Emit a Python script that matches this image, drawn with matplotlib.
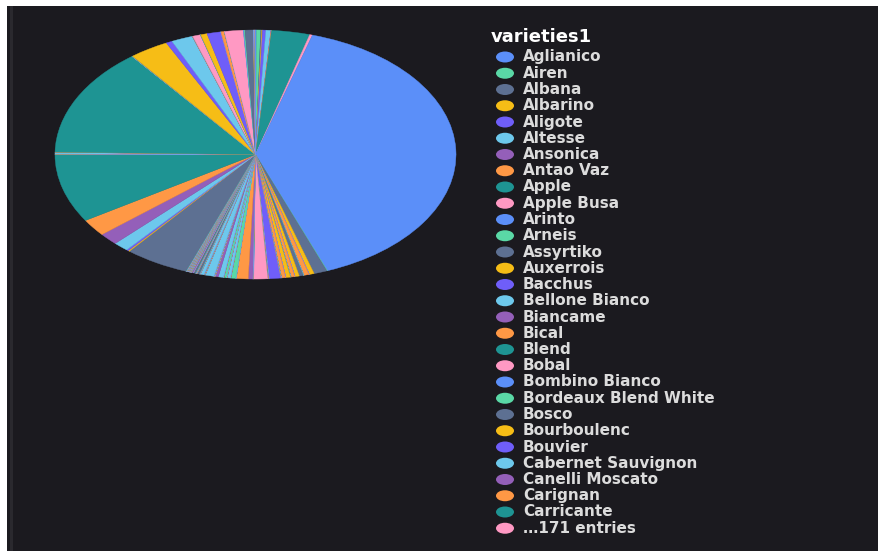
import matplotlib
matplotlib.use("Agg")
import matplotlib.pyplot as plt
from matplotlib.patches import Ellipse, Rectangle

# reviews per white variety, alphabetical order (201 varieties, clockwise from 12 o'clock)
variety_counts = [
    6, 24, 6, 4, 20, 28, 2, 2, 222, 16,
    2850, 3, 77, 28, 1, 1, 1, 29, 1, 1,
    1, 1, 24, 24, 1, 1, 1, 20, 1, 1,
    1, 1, 1, 25, 1, 1, 1, 22, 1, 1,
    1, 1, 1, 1, 66, 2, 2, 2, 2, 80,
    1, 1, 1, 1, 1, 1, 26, 68, 1, 1,
    1, 28, 1, 1, 1, 18, 1, 1, 1, 1,
    1, 14, 1, 1, 1, 30, 18, 1, 1, 1,
    1, 1, 1, 1, 1, 50, 1, 1, 1, 1,
    1, 1, 1, 1, 1, 20, 1, 1, 1, 1,
    1, 1, 14, 1, 1, 1, 1, 1, 1, 1,
    1, 1, 12, 1, 1, 1, 8, 1, 1, 1,
    1, 1, 1, 1, 1, 1, 1, 1, 1, 1,
    1, 1, 1, 1, 1, 1, 1, 1, 1, 1,
    1, 1, 1, 1, 1, 1, 1, 1, 1, 1,
    1, 1, 374, 8, 12, 88, 112, 160, 640, 1,
    1, 1, 1, 1, 1, 14, 1, 1, 1018, 1,
    1, 1, 1, 228, 36, 124, 1, 1, 1, 45,
    1, 1, 1, 37, 80, 1, 1, 18, 1, 109,
    4, 6, 48, 1, 1, 2, 1, 2, 1, 2,
    2,
]

# names shown in the legend before it gets truncated
legend_varieties = [
    "Aglianico", "Airen", "Albana", "Albarino", "Aligote", "Altesse",
    "Ansonica", "Antao Vaz", "Apple", "Apple Busa", "Arinto", "Arneis",
    "Assyrtiko", "Auxerrois", "Bacchus", "Bellone Bianco", "Biancame",
    "Bical", "Blend", "Bobal", "Bombino Bianco", "Bordeaux Blend White",
    "Bosco", "Bourboulenc", "Bouvier", "Cabernet Sauvignon",
    "Canelli Moscato", "Carignan", "Carricante",
]
hidden_entries = 171
legend_title = "varieties1"

palette = ["#5B8FF9", "#5AD8A6", "#5D7092", "#F6BD16", "#6F5EF9",
           "#6DC8EC", "#945FB9", "#FF9845", "#1E9493", "#FF99C3"]
bg = "#1b1a1f"
text_col = "#dcdcdc"

colors = [palette[i % len(palette)] for i in range(len(variety_counts))]

W, H = 879, 551
fig = plt.figure(figsize=(W / 100, H / 100), dpi=100, facecolor="white")

# dark panel with a thin white margin on top and left
fig.add_artist(Rectangle((7 / W, -0.02), 1.05, 1.02 - 6 / H, transform=fig.transFigure,
                         facecolor=bg, edgecolor="none", zorder=-2))
fig.add_artist(Rectangle((10 / W, -0.02), 3 / W, 1.02 - 6 / H, transform=fig.transFigure,
                         facecolor="#2a292e", edgecolor="none", zorder=-1))

# the pie, stretched into an ellipse
ax = fig.add_axes([55 / W, 1 - 279 / H, 401 / W, 249 / H])
wedges, _ = ax.pie(variety_counts, colors=colors, startangle=90, counterclock=False,
                   wedgeprops=dict(linewidth=0.3))
for w in wedges:
    w.set_edgecolor(w.get_facecolor())
ax.set_aspect("auto")
ax.set_xlim(-1.0, 1.0)
ax.set_ylim(-1.0, 1.0)
ax.axis("off")

# legend drawn in pixel space
lax = fig.add_axes([0, 0, 1, 1])
lax.set_xlim(0, W)
lax.set_ylim(H, 0)
lax.axis("off")

lax.text(491, 37, legend_title, color="white", fontsize=13, fontweight="bold",
         va="center", ha="left", family="DejaVu Sans")

row0, step = 57, 16.25
entries = legend_varieties + ["\u2026%d entries" % hidden_entries]
for i, name in enumerate(entries):
    y = row0 + i * step
    lax.add_patch(Ellipse((505, y), 18, 11, facecolor=palette[i % len(palette)],
                          edgecolor="none"))
    lax.text(523, y, name, color=text_col, fontsize=11, fontweight="bold",
             va="center", ha="left", family="DejaVu Sans")

fig.savefig("out.png", dpi=100, facecolor="white")
